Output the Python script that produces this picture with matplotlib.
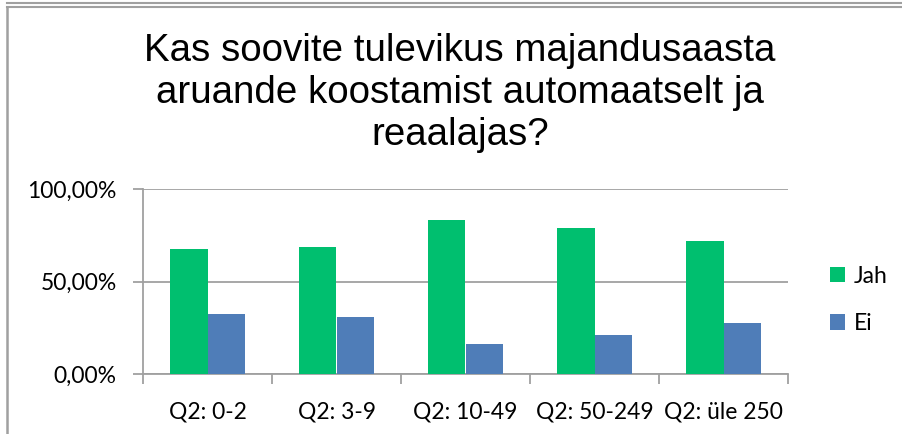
import numpy as np
import matplotlib
matplotlib.use("Agg")
from matplotlib import pyplot as plt
from matplotlib.lines import Line2D
from matplotlib.ticker import FuncFormatter, FixedLocator

categories = ["Q2: 0-2", "Q2: 3-9", "Q2: 10-49", "Q2: 50-249", "Q2: üle 250"]
jah = [67.4, 68.6, 83.2, 79.1, 72.1]
ei = [32.3, 31.0, 16.2, 20.9, 27.6]
series_names = ["Jah", "Ei"]
yticks = [0, 50, 100]

green = "#00BF6F"
blue = "#4F7DB8"
gray = "#A0A0A0"

fig = plt.figure(figsize=(9.02, 4.34), dpi=100)

# chart border lines like in the Excel screenshot
fig.add_artist(Line2D([7.5 / 902, 1], [1 - 2.5 / 434, 1 - 2.5 / 434], color=gray, lw=1.5))
fig.add_artist(Line2D([7.5 / 902, 1], [1 - 6.5 / 434, 1 - 6.5 / 434], color=gray, lw=1.5))
fig.add_artist(Line2D([7.5 / 902, 7.5 / 902], [0, 1 - 6.5 / 434], color=gray, lw=1.8))

ax = fig.add_axes([143 / 902, 1 - 374 / 434, 645 / 902, 185 / 434])

x = np.arange(len(categories))
w = 0.287
ax.bar(x - w / 2, jah, width=w, color=green, edgecolor="none", zorder=3, label=series_names[0])
ax.bar(x + w / 2, ei, width=w, color=blue, edgecolor="none", zorder=3, label=series_names[1])

ax.set_xlim(-0.5, len(categories) - 0.5)
ax.set_ylim(0, 100)

ax.set_yticks(yticks)
ax.yaxis.set_major_formatter(FuncFormatter(lambda v, p: ("%.2f" % v).replace(".", ",") + "%"))
ax.yaxis.grid(True, color=gray, lw=1.3, zorder=0)
ax.tick_params(axis="y", length=7, width=1.3, color=gray, pad=12, labelsize=16.5)

ax.set_xticks(x)
ax.set_xticklabels(categories)
ax.xaxis.set_minor_locator(FixedLocator(np.arange(-0.5, len(categories), 1.0)))
ax.tick_params(axis="x", which="major", length=0, pad=20, labelsize=16.5)
ax.tick_params(axis="x", which="minor", length=7, width=1.3, color=gray)

for lab in ax.get_xticklabels() + ax.get_yticklabels():
    lab.set_fontfamily("Lato")

for s in ["top", "right"]:
    ax.spines[s].set_visible(False)
for s in ["left", "bottom"]:
    ax.spines[s].set_color(gray)
    ax.spines[s].set_linewidth(1.3)

fig.text(0.51, 1 - 93 / 434, "Kas soovite tulevikus majandusaasta\naruande koostamist automaatselt ja\nreaalajas?",
         ha="center", va="center", fontsize=27.7, family="Liberation Sans", linespacing=1.22)

leg = fig.legend(loc="center left", bbox_to_anchor=(830 / 902, 1 - 300 / 434), frameon=False,
                 borderpad=0, borderaxespad=0,
                 prop={"family": "Lato", "size": 16.5}, handlelength=0.65, handleheight=0.65,
                 handletextpad=0.4, labelspacing=1.15)

fig.savefig("out.png", dpi=100)
